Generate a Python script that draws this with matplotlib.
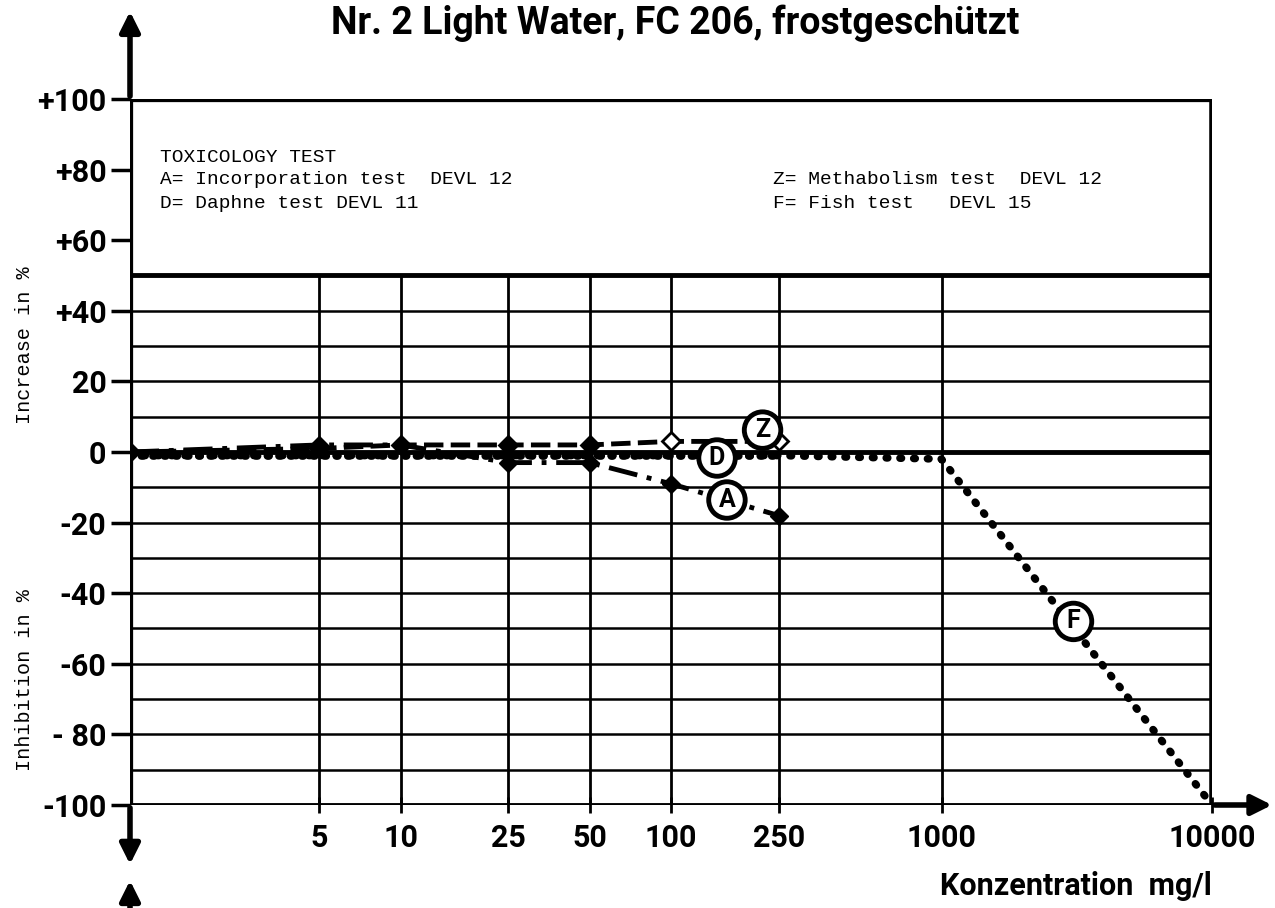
import numpy as np
import matplotlib
matplotlib.use('Agg')
import matplotlib.pyplot as plt

# concentrations (mg/l) and responses (%)
conc_a = [1, 5, 10, 25, 50, 100, 250]
incorporation = [0, 2, 2, -3, -3, -9, -18]
conc_z = [1, 5, 10, 25, 50, 100, 250]
metabolism = [0, 1, 2, 2, 2, 3, 3]
conc_d = [1, 5, 10, 25, 50, 100, 250]
daphne = [-1, -1, -1, -1, -1, -1, -1]
conc_f = [1, 250, 1000, 10000]
fish = [-1, -1, -2, -100]

x_ticks = [5, 10, 25, 50, 100, 250, 1000, 10000]
y_ticks = [100, 80, 60, 40, 20, 0, -20, -40, -60, -80, -100]
y_tick_labels = ['+100', '+80', '+60', '+40', '20', '0', '-20', '-40', '-60', '- 80', '-100']

bold_font = ['Roboto', 'DejaVu Sans']
mono_font = ['Liberation Mono', 'DejaVu Sans Mono']

fig = plt.figure(figsize=(12.75, 9.08), dpi=100)
ax = fig.add_axes([130 / 1275, 1 - 805 / 908, 1082 / 1275, 706 / 908])
ax.set_xscale('log')
ax.set_xlim(1, 10000)
ax.set_ylim(-100, 100)

# grid: thin lines every 10 % up to +40, thick ones at +100, +50, 0, -100
for y in range(-90, 50, 10):
    ax.axhline(y, color='black', lw=1.8, zorder=1)
for y in [50, 0, -100]:
    ax.axhline(y, color='black', lw=3.5, zorder=1)
ax.axhline(100, color='black', lw=4.5, zorder=1)
for x in x_ticks[:-1]:
    ax.plot([x, x], [-100, 50], color='black', lw=2, zorder=1)
ax.plot([10000, 10000], [-100, 100], color='black', lw=4, zorder=1)
ax.plot([1, 1], [-100, 100], color='black', lw=4.5, zorder=1)

for s in ax.spines.values():
    s.set_visible(False)

# data lines
ax.plot(conc_a, incorporation, color='black', lw=3.5, ls=(0, (6, 2, 1, 2)),
        marker='D', ms=9, zorder=4)
ax.plot(conc_z, metabolism, color='black', lw=3.5, ls=(0, (4, 1.5)), zorder=4)
z_faces = ['black', 'black', 'black', 'black', 'black', 'white', 'white']
for xv, yv, fc in zip(conc_z, metabolism, z_faces):
    ax.plot(xv, yv, marker='D', ms=9, mfc=fc, mec='black', mew=2, zorder=5)
ax.plot(conc_d, daphne, color='black', lw=5.5, ls=(0, (0.2, 1.3)),
        dash_capstyle='round', zorder=3)
ax.plot(conc_f, fish, color='black', lw=5.5, ls=(0, (0.2, 1.6)),
        dash_capstyle='round', zorder=3)

# circled series labels
for label, xv, yv in [('A', 161, -13.6), ('D', 148, -1.7), ('Z', 218, 6.2), ('F', 3076, -48)]:
    ax.text(xv, yv, label, ha='center', va='center', fontsize=18, fontweight='bold',
            family=bold_font, zorder=6,
            bbox=dict(boxstyle='circle,pad=0.25', fc='white', ec='black', lw=3.5))

# ticks
ax.set_xticks(x_ticks)
ax.set_xticklabels([str(v) for v in x_ticks], fontsize=22, fontweight='bold', family=bold_font)
ax.xaxis.set_minor_locator(matplotlib.ticker.NullLocator())
ax.set_yticks(y_ticks)
ax.set_yticklabels(y_tick_labels, fontsize=22, fontweight='bold', family=bold_font)
ax.tick_params(axis='x', length=12, width=2, direction='inout', pad=7)
ax.tick_params(axis='y', length=14, width=2.5, direction='out', pad=3)

# axis arrows
arrow = dict(arrowstyle='-|>', lw=4, color='black', mutation_scale=30)
ax.annotate('', xy=(0, 1.128), xytext=(0, 1), xycoords='axes fraction', arrowprops=arrow)
ax.annotate('', xy=(0, -0.088), xytext=(0, 0), xycoords='axes fraction', arrowprops=arrow)
ax.annotate('', xy=(0, -0.103), xytext=(0, -0.16), xycoords='axes fraction', arrowprops=arrow)
ax.annotate('', xy=(1.058, 0), xytext=(1, 0), xycoords='axes fraction', arrowprops=arrow)

# legend box text
fs = 14
fig.text(160 / 1275, 1 - 157 / 908, 'TOXICOLOGY TEST', fontsize=fs, family=mono_font, va='center')
fig.text(160 / 1275, 1 - 180 / 908, 'A= Incorporation test  DEVL 12', fontsize=fs, family=mono_font, va='center')
fig.text(160 / 1275, 1 - 203 / 908, 'D= Daphne test DEVL 11', fontsize=fs, family=mono_font, va='center')
fig.text(773 / 1275, 1 - 180 / 908, 'Z= Methabolism test  DEVL 12', fontsize=fs, family=mono_font, va='center')
fig.text(773 / 1275, 1 - 203 / 908, 'F= Fish test   DEVL 15', fontsize=fs, family=mono_font, va='center')

# axis titles
fig.text(25 / 1275, 1 - 345 / 908, 'Increase in %', rotation=90, fontsize=14.5,
         family=mono_font, ha='center', va='center')
fig.text(25 / 1275, 1 - 680 / 908, 'Inhibition in %', rotation=90, fontsize=14.5,
         family=mono_font, ha='center', va='center')
fig.text(940 / 1275, 1 - 895 / 908, 'Konzentration  mg/l', fontsize=22, fontweight='bold',
         family=bold_font, va='baseline')
fig.text(675 / 1275, 1 - 34 / 908, 'Nr. 2 Light Water, FC 206, frostgeschützt', fontsize=27,
         fontweight='bold', family=bold_font, ha='center', va='baseline')

fig.savefig('out.png', dpi=100)
